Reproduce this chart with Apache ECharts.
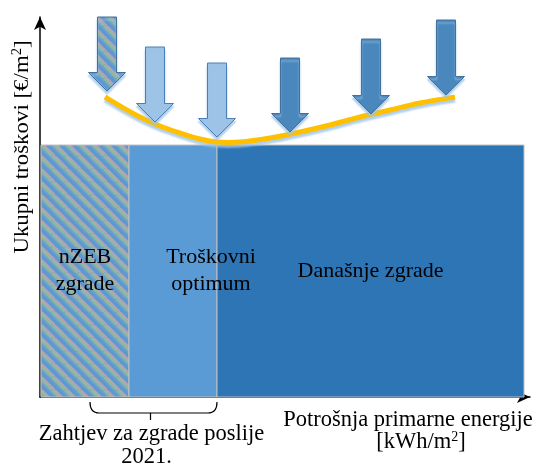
<!DOCTYPE html>
<html><head><meta charset="utf-8">
<script src="https://cdn.jsdelivr.net/npm/echarts@6/dist/echarts.min.js"></script>
<style>html,body{margin:0;padding:0;background:#fff}#c{width:540px;height:470px}</style>
</head><body><div id="c"></div>
<script>
// ---- data (abstract units: x = primary energy use, y = total cost) ----
const categories = ['nZEB\nzgrade', 'Troškovni\noptimum', 'Današnje zgrade'];
const bandStart = [1, 89, 177];
const bandEnd = [89, 177, 484];
const bandHeight = [252, 252, 252];
const arrowX = [67, 115, 177, 250, 331, 406];
const arrowTop = [380, 350, 334, 339, 358, 377];
const arrowTip = [306, 275, 260, 265, 283, 302];
const curveX = [65, 80, 100, 120, 140, 160, 177, 200, 230, 260, 290, 320, 350, 380, 415];
const curveY = [300, 291, 280, 271, 264, 258, 255, 255, 259, 265, 272, 280, 287, 294, 300];
const braceSpan = [50, 177];
const yTitle = ['Ukupni troškovi [€/m', '2', ']'];
const xTitle = ['Potrošnja primarne energije', '[kWh/m', '2', ']'];
const braceText = ['Zahtjev za zgrade poslije', '2021.'];

// ---- styles ----
const FONT = '"Liberation Serif", "Times New Roman", serif';
function hatch() {
  const s = 13, c = document.createElement('canvas');
  c.width = s; c.height = s;
  const g = c.getContext('2d');
  g.fillStyle = '#5e98d0'; g.fillRect(0, 0, s, s);
  const draw = (col, w, off) => {
    g.strokeStyle = col; g.lineWidth = w;
    for (const k of [-s, 0, s]) { g.beginPath(); g.moveTo(k + off, 0); g.lineTo(k + off + s, s); g.stroke(); }
  };
  draw('rgba(150,190,150,0.9)', 3, 0);
  draw('rgba(195,165,180,0.85)', 2, 2.8);
  draw('rgba(120,170,200,0.6)', 2, -2.8);
  return { image: c, repeat: 'repeat' };
}
const HATCH = hatch();
const bandFill = [HATCH, '#5b9bd5', '#2e75b6'];
const labelDx = [0, 38, 0];
const arrowFill = [HATCH, '#9dc3e6', '#9dc3e6', '#4a87bc', '#4a87bc', '#4a87bc'];
const arrowStroke = ['#41719c', '#4a7ebb', '#4a7ebb', '#41719c', '#41719c', '#41719c'];
const supRich = { sup: { font: '14px ' + FONT, verticalAlign: 'top', padding: [0, 0, 9, 0] } };

const chart = echarts.init(document.getElementById('c'), null, { renderer: 'canvas' });
const bandData = categories.map((n, i) => [bandStart[i], bandEnd[i], bandHeight[i], i]);
const arrowData = arrowX.map((x, i) => [x, arrowTop[i], arrowTip[i], i]);
const curveData = curveX.map((x, i) => [x, curveY[i]]);

function bandGeom(api) {
  const p0 = api.coord([api.value(0), api.value(2)]);
  const p1 = api.coord([api.value(1), 0]);
  return [p0, p1];
}

chart.setOption({
  animation: false,
  grid: { left: 40, right: 10, top: 17, bottom: 73 },
  xAxis: {
    type: 'value', min: 0, max: 490,
    axisLine: { show: true, onZero: false, symbol: ['none', 'arrow'], symbolSize: [9, 13], lineStyle: { color: '#000', width: 1.5 } },
    axisTick: { show: false }, axisLabel: { show: false }, splitLine: { show: false }
  },
  yAxis: {
    type: 'value', min: 0, max: 380,
    axisLine: { show: true, onZero: false, symbol: ['none', 'arrow'], symbolSize: [9, 13], lineStyle: { color: '#000', width: 1.5 } },
    axisTick: { show: false }, axisLabel: { show: false }, splitLine: { show: false }
  },
  series: [
    {
      type: 'custom', z: 1, data: bandData,
      renderItem: (params, api) => {
        const i = api.value(3);
        const [p0, p1] = bandGeom(api);
        return { type: 'rect', shape: { x: p0[0], y: p0[1], width: p1[0] - p0[0], height: p1[1] - p0[1] },
          style: { fill: bandFill[i], stroke: '#c0c0c0', lineWidth: 1 } };
      }
    },
    {
      type: 'custom', z: 5, data: bandData,
      renderItem: (params, api) => {
        const i = api.value(3);
        const [p0, p1] = bandGeom(api);
        return { type: 'text', x: (p0[0] + p1[0]) / 2 + labelDx[i], y: (p0[1] + p1[1]) / 2,
          style: { text: categories[i], font: '22px ' + FONT, fill: '#000', align: 'center', verticalAlign: 'middle', lineHeight: 27 } };
      }
    },
    {
      // cost curve: smooth Catmull-Rom spline through the data points
      type: 'custom', z: 3, data: curveData,
      renderItem: (params, api) => {
        if (params.dataIndex !== 0) return null;
        const P = curveData.map(d => api.coord(d));
        let d = `M${P[0][0]} ${P[0][1]}`;
        for (let i = 0; i < P.length - 1; i++) {
          const p0 = P[Math.max(i - 1, 0)], p1 = P[i], p2 = P[i + 1], p3 = P[Math.min(i + 2, P.length - 1)];
          const c1 = [p1[0] + (p2[0] - p0[0]) / 6, p1[1] + (p2[1] - p0[1]) / 6];
          const c2 = [p2[0] - (p3[0] - p1[0]) / 6, p2[1] - (p3[1] - p1[1]) / 6];
          d += ` C${c1[0]} ${c1[1]} ${c2[0]} ${c2[1]} ${p2[0]} ${p2[1]}`;
        }
        return { type: 'path', shape: { pathData: d },
          style: { fill: 'none', stroke: '#ffc000', lineWidth: 5, lineCap: 'butt', shadowColor: 'rgba(157,195,230,0.8)', shadowOffsetY: 3, shadowBlur: 2 } };
      }
    },
    {
      type: 'custom', z: 4, data: arrowData,
      renderItem: (params, api) => {
        const i = api.value(3);
        const top = api.coord([api.value(0), api.value(1)]);
        const tip = api.coord([api.value(0), api.value(2)]);
        const cx = top[0], sw = 9.5, hw = 18.5, hl = 18.5;
        const hy = tip[1] - hl;
        return {
          type: 'polygon',
          shape: { points: [[cx - sw, top[1]], [cx + sw, top[1]], [cx + sw, hy], [cx + hw, hy], [cx, tip[1]], [cx - hw, hy], [cx - sw, hy]] },
          style: { fill: arrowFill[i], stroke: arrowStroke[i], lineWidth: 1, shadowColor: 'rgba(157,195,230,0.9)', shadowOffsetY: 3, shadowBlur: 2 }
        };
      }
    },
    {
      type: 'custom', z: 2, data: [braceSpan],
      renderItem: (params, api) => {
        const a = api.coord([api.value(0), 0]);
        const b = api.coord([api.value(1), 0]);
        const y0 = a[1] + 5, y1 = y0 + 11, m = (a[0] + b[0]) / 2 - 3;
        return {
          type: 'group', children: [
            { type: 'path', shape: { pathData: `M${a[0]} ${y0} Q${a[0]} ${y1} ${a[0] + 9} ${y1} L${b[0] - 9} ${y1} Q${b[0]} ${y1} ${b[0]} ${y0} M${m} ${y1} L${m} ${y1 + 7}` },
              style: { fill: 'none', stroke: '#000', lineWidth: 1.2 } },
            { type: 'text', x: m + 1, y: y1 + 21, style: { text: braceText[0], font: '22.5px ' + FONT, fill: '#000', align: 'center', verticalAlign: 'middle' } },
            { type: 'text', x: m - 4, y: y1 + 44, style: { text: braceText[1], font: '22.5px ' + FONT, fill: '#000', align: 'center', verticalAlign: 'middle' } }
          ]
        };
      }
    }
  ],
  graphic: [
    { type: 'text', x: 22, y: 147, rotation: Math.PI / 2, scaleX: 1.04,
      style: { text: yTitle[0] + '{sup|' + yTitle[1] + '}' + yTitle[2], rich: supRich, font: '22px ' + FONT, fill: '#000', align: 'center', verticalAlign: 'middle' } },
    { type: 'text', x: 408, y: 420,
      style: { text: xTitle[0], font: '22.5px ' + FONT, fill: '#000', align: 'center', verticalAlign: 'middle' } },
    { type: 'text', x: 421, y: 442,
      style: { text: xTitle[1] + '{sup|' + xTitle[2] + '}' + xTitle[3], rich: supRich, font: '22.5px ' + FONT, fill: '#000', align: 'center', verticalAlign: 'middle' } }
  ]
});
</script></body></html>
